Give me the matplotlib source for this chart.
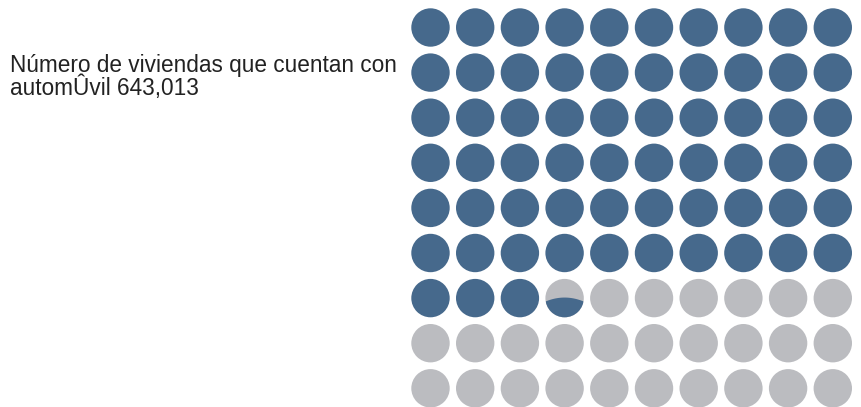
import numpy as np
from matplotlib import pyplot as plt
from matplotlib.patches import Circle, Polygon

# Datos del gráfico de puntos
etiqueta = 'Número de viviendas que cuentan con\nautomÛvil 643,013'
n_filas = 9
n_columnas = 10
puntos_llenos = 63.37  # círculos coloreados (el último parcial)

color_lleno = '#46698c'
color_vacio = '#bbbcc0'

fig = plt.figure(figsize=(8.61, 4.07), dpi=100)
ax = fig.add_axes([0, 0, 1, 1])
ax.set_xlim(0, 861)
ax.set_ylim(407, 0)
ax.set_aspect('equal')
ax.axis('off')

# Posición de la cuadrícula en píxeles
x0, y0 = 430.5, 27.5
paso_x, paso_y = 44.7, 45.1
radio = 19.2

enteros = int(np.floor(puntos_llenos))
fraccion = puntos_llenos - enteros

for i in range(n_filas):
    for j in range(n_columnas):
        k = i * n_columnas + j
        cx, cy = x0 + j * paso_x, y0 + i * paso_y
        if k < enteros:
            ax.add_patch(Circle((cx, cy), radio, color=color_lleno, lw=0))
        else:
            fondo = Circle((cx, cy), radio, color=color_vacio, lw=0)
            ax.add_patch(fondo)
            if k == enteros and fraccion > 0:
                # relleno parcial desde abajo, con borde superior curvo
                nivel = cy + radio - 2 * radio * 0.41
                u = np.linspace(-1, 1, 40)
                xs = cx + u * radio
                ys = nivel - 4 * (1 - u ** 2)
                pts = list(zip(xs, ys)) + [(cx + radio, cy + radio + 2), (cx - radio, cy + radio + 2)]
                relleno = Polygon(pts, closed=True, color=color_lleno, lw=0)
                ax.add_patch(relleno)
                relleno.set_clip_path(fondo)

ax.text(10, 77, etiqueta, fontsize=16.3, family='Liberation Sans',
        color='#222222', ha='left', va='center', linespacing=0.9)

fig.savefig('out.png', dpi=100)
